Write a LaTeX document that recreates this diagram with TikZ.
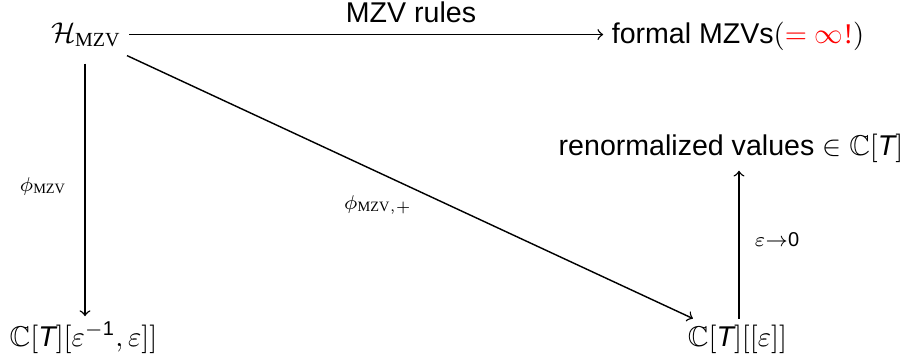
\documentclass[tikz,border=0pt]{standalone}
\usepackage{amsmath,amssymb}
\usepackage{fontspec}
\setmainfont{Liberation Sans}
\newfontfamily\mzvfont{Liberation Serif}
\newcommand{\mzvsub}{\text{\mzvfont MZV}}
\begin{document}
\begin{tikzpicture}[x=0.35pt,y=-0.35pt,
  every node/.style={inner sep=0pt,outer sep=0pt},
  obj/.style={anchor=base},
  lbl/.style={anchor=base},
  arr/.style={draw=black,line width=0.5pt,-to}]
\useasboundingbox (0,0) rectangle (917,354);
% objects
\node[obj] (H) at (86,42) {$\mathcal{H}_{\mzvsub}$};
\node[obj] (F) at (738,43) {formal MZVs$(\textcolor{red}{=\infty\text{\mzvfont !}})$};
\node[obj] (R) at (731,155) {renormalized values $\in\mathbb{C}[\textit{T}]$};
\node[obj] (BL) at (83.5,346) {$\mathbb{C}[\textit{T}][\varepsilon^{-\text{1}},\varepsilon]]$};
\node[obj] (BR) at (737.5,346) {$\mathbb{C}[\textit{T}][[\varepsilon]]$};
% helper coordinates
\path ([shift={(8,0)}]H.east) coordinate (ts);
\path (ts -| F.west) coordinate (te0);
\path ([shift={(-1,17)}]H.south) coordinate (ls);
\path (ls |- BL.north) coordinate (le0);
\path ([shift={(1.5,0)}]BR.north) coordinate (rs);
\path (rs |- R.south) coordinate (re0);
% arrows
\draw[arr,shorten >=3pt] (ts) -- (te0);
\draw[arr,shorten >=2pt] (ls) -- (le0);
\draw[arr,shorten <=2pt,shorten >=3pt] (rs) -- (re0);
\draw[arr] ([shift={(6,9)}]H.south east) -- ([shift={(5,-6)}]BR.north west);
% labels
\node[lbl] (l1) at (411,22) {MZV rules};
\node[lbl] (l2) at (43,191) {$\scriptstyle\phi_{\mzvsub}$};
\node[lbl] (l3) at (378,209) {$\scriptstyle\phi_{\mzvsub,+}$};
\node[lbl] (l4) at (777,246) {$\scriptstyle\varepsilon\to\text{0}$};
\end{tikzpicture}
\end{document}
